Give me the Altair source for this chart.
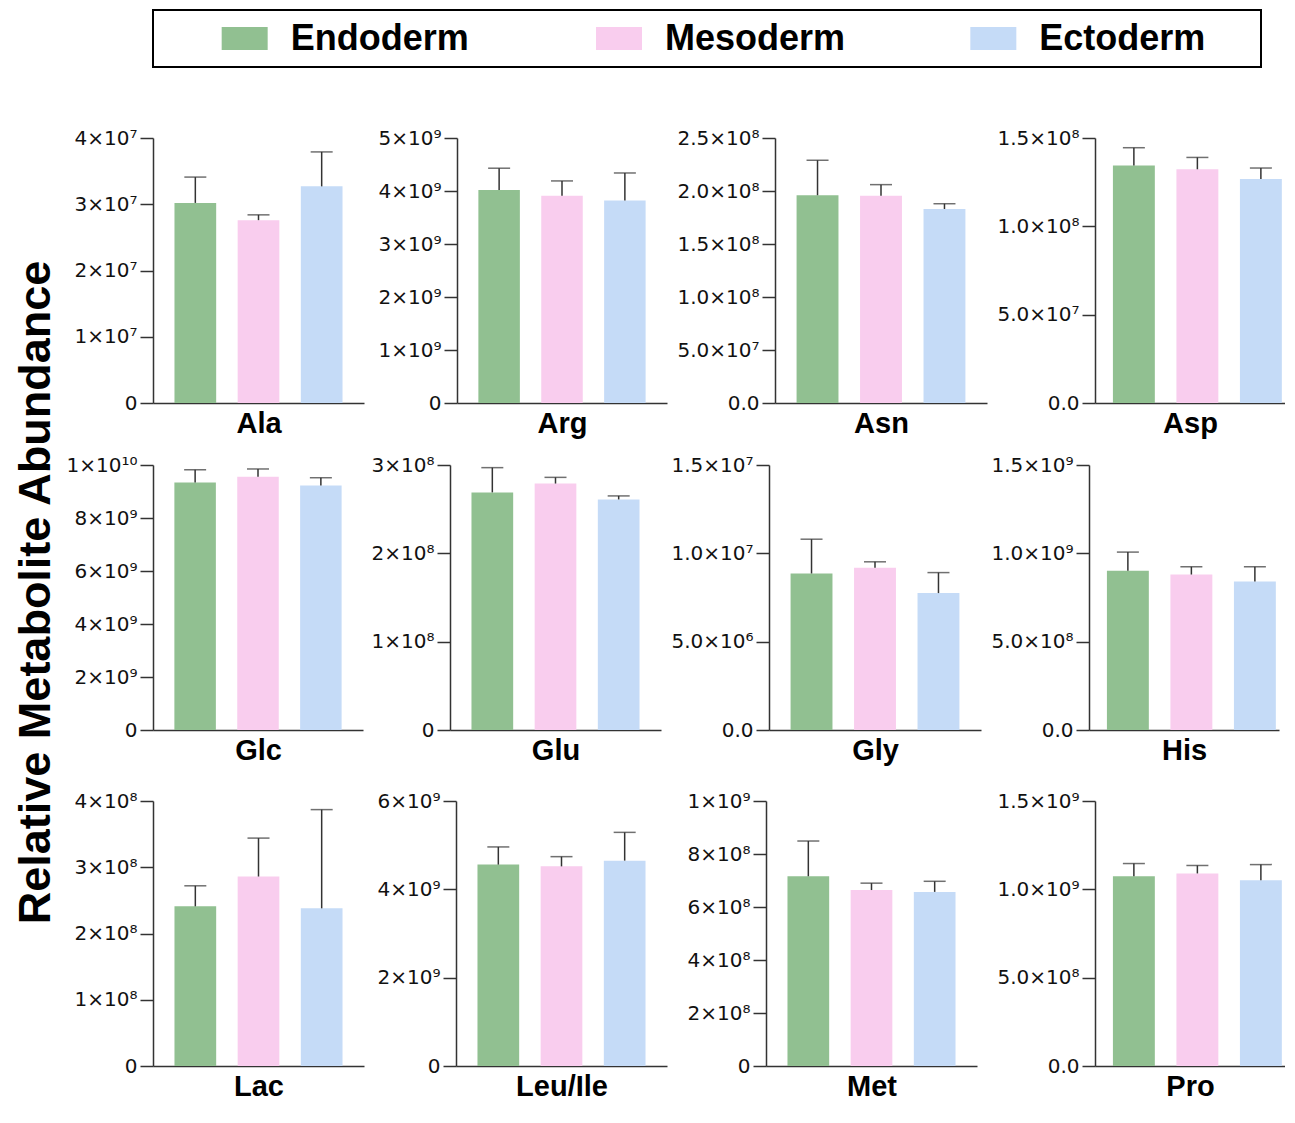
import json
import altair as alt
import pandas as pd

# ---------------- data ----------------
groups = ["Endoderm", "Mesoderm", "Ectoderm"]
group_colors = ["#91C091", "#F9CDEE", "#C5DBF7"]

metabolites = ["Ala", "Arg", "Asn", "Asp", "Glc", "Glu", "Gly", "His",
               "Lac", "Leu/Ile", "Met", "Pro"]

endo_mean = [3.02e7, 4.02e9, 1.96e8, 1.345e8, 9.34e9, 2.69e8, 8.86e6, 9.02e8, 2.41e8, 4.56e9, 7.16e8, 1.074e9]
meso_mean = [2.76e7, 3.91e9, 1.955e8, 1.323e8, 9.56e9, 2.79e8, 9.19e6, 8.80e8, 2.86e8, 4.52e9, 6.64e8, 1.090e9]
ecto_mean = [3.27e7, 3.82e9, 1.83e8, 1.268e8, 9.23e9, 2.61e8, 7.75e6, 8.41e8, 2.38e8, 4.65e9, 6.57e8, 1.052e9]
endo_upper = [3.41e7, 4.43e9, 2.29e8, 1.445e8, 9.82e9, 2.97e8, 1.08e7, 1.007e9, 2.72e8, 4.96e9, 8.49e8, 1.146e9]
meso_upper = [2.84e7, 4.19e9, 2.06e8, 1.39e8, 9.85e9, 2.86e8, 9.52e6, 9.24e8, 3.44e8, 4.74e9, 6.90e8, 1.135e9]
ecto_upper = [3.79e7, 4.34e9, 1.88e8, 1.33e8, 9.52e9, 2.65e8, 8.91e6, 9.24e8, 3.87e8, 5.29e9, 6.97e8, 1.140e9]

ala_ticks = [0, 1e7, 2e7, 3e7, 4e7]
ala_labels = ["0", "1×10⁷", "2×10⁷", "3×10⁷", "4×10⁷"]
arg_ticks = [0, 1e9, 2e9, 3e9, 4e9, 5e9]
arg_labels = ["0", "1×10⁹", "2×10⁹", "3×10⁹", "4×10⁹", "5×10⁹"]
asn_ticks = [0, 5e7, 1e8, 1.5e8, 2e8, 2.5e8]
asn_labels = ["0.0", "5.0×10⁷", "1.0×10⁸", "1.5×10⁸", "2.0×10⁸", "2.5×10⁸"]
asp_ticks = [0, 5e7, 1e8, 1.5e8]
asp_labels = ["0.0", "5.0×10⁷", "1.0×10⁸", "1.5×10⁸"]
glc_ticks = [0, 2e9, 4e9, 6e9, 8e9, 1e10]
glc_labels = ["0", "2×10⁹", "4×10⁹", "6×10⁹", "8×10⁹", "1×10¹⁰"]
glu_ticks = [0, 1e8, 2e8, 3e8]
glu_labels = ["0", "1×10⁸", "2×10⁸", "3×10⁸"]
gly_ticks = [0, 5e6, 1e7, 1.5e7]
gly_labels = ["0.0", "5.0×10⁶", "1.0×10⁷", "1.5×10⁷"]
his_ticks = [0, 5e8, 1e9, 1.5e9]
his_labels = ["0.0", "5.0×10⁸", "1.0×10⁹", "1.5×10⁹"]
lac_ticks = [0, 1e8, 2e8, 3e8, 4e8]
lac_labels = ["0", "1×10⁸", "2×10⁸", "3×10⁸", "4×10⁸"]
leu_ticks = [0, 2e9, 4e9, 6e9]
leu_labels = ["0", "2×10⁹", "4×10⁹", "6×10⁹"]
met_ticks = [0, 2e8, 4e8, 6e8, 8e8, 1e9]
met_labels = ["0", "2×10⁸", "4×10⁸", "6×10⁸", "8×10⁸", "1×10⁹"]
pro_ticks = [0, 5e8, 1e9, 1.5e9]
pro_labels = ["0.0", "5.0×10⁸", "1.0×10⁹", "1.5×10⁹"]

tick_sets = [
    (ala_ticks, ala_labels), (arg_ticks, arg_labels), (asn_ticks, asn_labels), (asp_ticks, asp_labels),
    (glc_ticks, glc_labels), (glu_ticks, glu_labels), (gly_ticks, gly_labels), (his_ticks, his_labels),
    (lac_ticks, lac_labels), (leu_ticks, leu_labels), (met_ticks, met_labels), (pro_ticks, pro_labels),
]

# ---------------- layout ----------------
FONT = "Liberation Sans"
LABEL_FONT = "DejaVu Sans"
AX = "#333333"
PANEL_H = 265
# (width, y-axis extent, paddingOuter, align) per panel
layout = [
    (211, 85, 0.34, 0.5), (210, 93, 0.34, 0.5), (212, 108, 0.34, 0.5), (190, 108, 0.166, 0.85),
    (210, 92, 0.34, 0.5), (211, 87, 0.34, 0.5), (212, 108, 0.34, 0.5), (190, 108, 0.166, 0.85),
    (211, 86, 0.34, 0.5), (211, 92, 0.34, 0.5), (211, 99, 0.34, 0.5), (190, 118, 0.166, 0.85),
]

color_scale = alt.Scale(domain=groups, range=group_colors)


def panel(i):
    name = metabolites[i]
    w, ext, po, al = layout[i]
    ticks, labels = tick_sets[i]
    df = pd.DataFrame({
        "group": groups,
        "mean": [endo_mean[i], meso_mean[i], ecto_mean[i]],
        "upper": [endo_upper[i], meso_upper[i], ecto_upper[i]],
    })
    expr = (json.dumps(labels, ensure_ascii=False) + "[indexof("
            + json.dumps([float(t) for t in ticks]) + ", datum.value)]")
    x = alt.X("group:N", sort=groups,
              scale=alt.Scale(paddingInner=0.34, paddingOuter=po, align=al),
              axis=alt.Axis(title=name, labels=False, ticks=False, domain=True,
                            titleFontSize=29, titleFontWeight="bold", titlePadding=6,
                            minExtent=0, maxExtent=0))
    y = alt.Y("mean:Q", scale=alt.Scale(domain=[0, ticks[-1]], nice=False, zero=True),
              axis=alt.Axis(values=ticks, labelExpr=expr, title=None, grid=False,
                            tickSize=13, labelFontSize=20, labelPadding=3,
                            labelFont=LABEL_FONT,
                            minExtent=ext, maxExtent=ext))
    base = alt.Chart(df)
    bars = base.mark_bar().encode(
        x=x, y=y, color=alt.Color("group:N", scale=color_scale, legend=None))
    rule = base.mark_rule(color=AX, strokeWidth=1.5).encode(
        x=alt.X("group:N", sort=groups), y="mean:Q", y2="upper:Q")
    cap = base.mark_tick(color=AX, size=22, thickness=1.5, orient="horizontal").encode(
        x=alt.X("group:N", sort=groups), y="upper:Q")
    return alt.layer(bars, rule, cap).properties(width=w, height=PANEL_H)


rows = [alt.hconcat(*[panel(r * 4 + c) for c in range(4)], spacing=0) for r in range(3)]
grid = alt.vconcat(
    alt.vconcat(rows[0], rows[1], spacing=17),
    rows[2], spacing=26,
    title=alt.TitleParams("Relative Metabolite Abundance", orient="left", anchor="middle",
                          fontSize=45, fontWeight="bold", font=FONT, color="black",
                          offset=2, dx=22),
)

# ---------------- legend ----------------
leg_df = pd.DataFrame({"group": groups, "k": ["a", "a", "a"]})
leg_x = alt.X("group:N", sort=groups, scale=alt.Scale(type="point", padding=0.48), axis=None)
leg_y = alt.Y("k:N", axis=alt.Axis(title=None, domain=False, ticks=False, labelOpacity=0,
                                   minExtent=143, maxExtent=143))
sym = alt.Chart(leg_df).mark_point(
    shape="M-1,-0.5L1,-0.5L1,0.5L-1,0.5Z", size=2116, filled=True, opacity=1,
    strokeWidth=0, xOffset=-88).encode(
    x=leg_x, y=leg_y, color=alt.Color("group:N", scale=color_scale, legend=None))
txt = alt.Chart(leg_df).mark_text(
    align="left", baseline="middle", xOffset=-42, fontSize=36, fontWeight="bold",
    font=FONT, color="black").encode(x=leg_x, y=leg_y, text="group:N")
legend = alt.layer(sym, txt).properties(
    width=1108, height=57, view=alt.ViewBackground(stroke="black", strokeWidth=2))

chart = alt.vconcat(legend, grid, spacing=60).properties(
    padding={"left": 1, "top": 1, "right": 0, "bottom": 0}
).configure_view(strokeWidth=0).configure_axis(
    domainColor=AX, domainWidth=1.5, tickColor=AX, tickWidth=1.5,
    labelColor="#111111", titleColor="black", labelFont=FONT, titleFont=FONT,
)

chart.save("out.html", embed_options={"renderer": "svg", "actions": False})
